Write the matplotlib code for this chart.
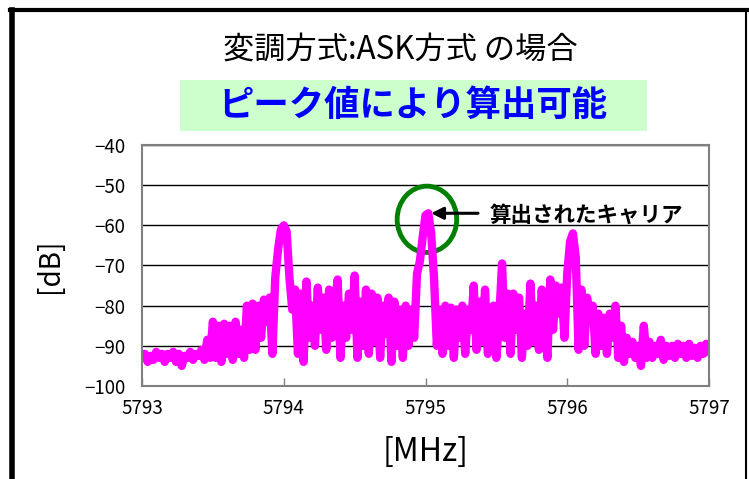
import numpy as np
import matplotlib
matplotlib.use("Agg")
import matplotlib.pyplot as plt
from matplotlib.patches import Rectangle, Ellipse
from matplotlib.lines import Line2D

plt.rcParams['font.family'] = ['Noto Sans CJK JP', 'DejaVu Sans']

# 周波数 [MHz] (0.02 MHz 刻み)
freq_start = 5793.0
freq_step = 0.02

# スペクトル値 [dB]
level_db = [
    -93, -92, -94, -92.5, -93.5, -91.5, -93, -92, -94, -92,
    -93, -91.5, -94, -92, -95, -92.5, -93, -91.5, -93.5, -92,
    -92.5, -91, -93.5, -88.5, -93, -84, -93, -85, -94, -84.5,
    -92, -85, -93.5, -84, -92, -86, -93, -80, -91, -79.5,
    -91, -80, -88, -78.5, -84, -78, -92, -73, -66, -61,
    -60, -61.5, -73, -81, -76, -92, -77, -94, -74, -88,
    -80, -90, -75.5, -86, -78, -91, -76, -88, -80, -73.5,
    -93, -80, -88, -77, -86, -72.5, -93, -79, -90, -76,
    -92, -77, -89, -78, -93, -80, -87, -78, -94, -79,
    -90, -81, -93, -80, -90, -81, -88, -72, -69, -63,
    -57.5, -57, -62, -73, -90, -81, -92, -80, -90, -80.5,
    -93, -81, -88, -80, -92, -81, -86, -75, -91, -79,
    -89, -76, -92, -84, -80, -93, -83, -69.5, -88, -77,
    -92, -77, -86, -78, -93, -82, -90, -74.5, -89, -80,
    -91, -76, -85, -93, -73.5, -86, -75, -82, -75.5, -88,
    -72, -64, -62, -68, -91, -76, -90, -78, -83, -80,
    -92, -82, -90, -83, -92, -82, -88, -80, -93, -85,
    -94, -88, -92, -89, -93, -90, -95, -85, -93, -89,
    -93, -90, -92, -88.5, -93.5, -90, -92.5, -90, -93, -89.5,
    -92, -90, -93, -89.5, -92.5, -90.5, -93, -90, -92, -89.5,
    -91.5,
]
freq = freq_start + freq_step * np.arange(len(level_db))

x_ticks = [5793, 5794, 5795, 5796, 5797]
y_ticks = [-100, -90, -80, -70, -60, -50, -40]

fig = plt.figure(figsize=(7.49, 4.79), dpi=100)

# 外枠
fig.add_artist(Line2D([0.016, 0.016], [0.0, 0.979], color='black', lw=4, transform=fig.transFigure))
fig.add_artist(Line2D([0.014, 0.997], [0.979, 0.979], color='black', lw=3, transform=fig.transFigure))
fig.add_artist(Line2D([0.996, 0.996], [0.0, 0.979], color='black', lw=1.5, transform=fig.transFigure))

# タイトル
fig.text(0.535, 0.896, '変調方式:ASK方式 の場合', ha='center', va='center', fontsize=22.5)
fig.add_artist(Rectangle((0.2403, 0.7265), 0.6235, 0.1065, facecolor='#ccffcc',
                         edgecolor='none', transform=fig.transFigure))
fig.text(0.551, 0.779, 'ピーク値により算出可能', ha='center', va='center',
         fontsize=25.5, fontweight='bold', color='#0000ff')

ax = fig.add_axes([0.1896, 0.1942, 0.7570, 0.5031])
ax.plot(freq, level_db, color='#ff00ff', lw=6, solid_joinstyle='round', solid_capstyle='round')

ax.set_xlim(5793, 5797)
ax.set_ylim(-100, -40)
ax.set_xticks(x_ticks)
ax.set_yticks(y_ticks)
ax.yaxis.grid(True, color='black', lw=1)
ax.set_axisbelow(True)
for s in ax.spines.values():
    s.set_color('#808080')
    s.set_linewidth(1.5)
ax.tick_params(axis='x', direction='in', length=6, width=1, color='#808080',
               labelsize=13.5, pad=9)
ax.tick_params(axis='y', length=0, labelsize=13.5, pad=12)

ax.set_xlabel('[MHz]', fontsize=23, labelpad=12)
ax.set_ylabel('[dB]', fontsize=20, labelpad=14)

# 算出されたキャリア の注記
ax.add_patch(Ellipse((5795.01, -58.5), 0.42, 16.5, fill=False, edgecolor='#008000', lw=3.5))
ax.annotate('', xy=(5795.02, -57.0), xytext=(5795.39, -57.0),
            arrowprops=dict(arrowstyle='-|>', color='black', lw=2.2, mutation_scale=18))
ax.text(5795.45, -57.6, '算出されたキャリア', ha='left', va='center',
        fontsize=15.5, fontweight='bold')

fig.savefig('out.png', dpi=100)
